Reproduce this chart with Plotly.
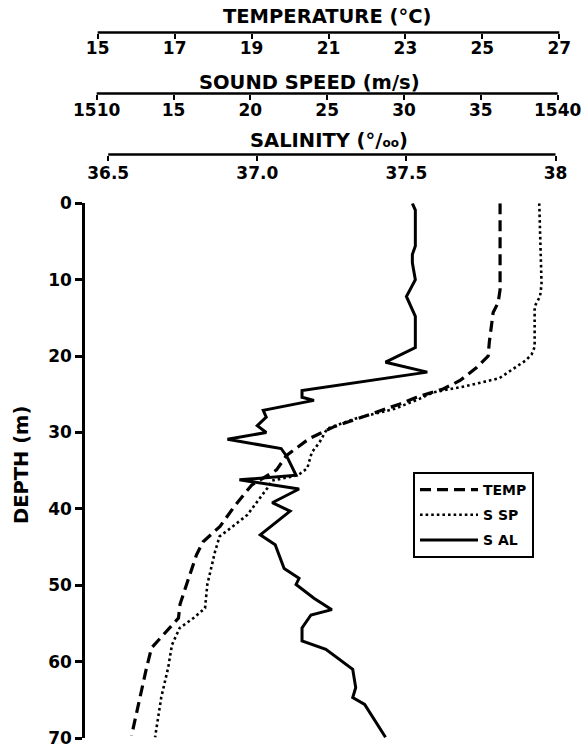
import plotly.graph_objects as go

# ---------------- data ----------------
temp_depth = [0, 11.3, 13.0, 14.3, 18.2, 20.0, 21.5, 23.2, 24.3, 24.75, 25.4, 26.3, 27.8,
              29.3, 30.8, 33.0, 34.9, 36.9, 39.7, 42.3, 44.3, 46.0, 49.9, 52.5, 54.3,
              56.45, 58.2, 60.8, 64.7, 69.7]
temp_values = [25.46, 25.46, 25.41, 25.28, 25.18, 25.15, 24.85, 24.42, 23.98, 23.72, 23.29,
               22.84, 21.99, 21.12, 20.5, 19.91, 19.65, 19.0, 18.55, 18.18, 17.74, 17.57,
               17.31, 17.14, 17.10, 16.71, 16.40, 16.27, 16.10, 15.88]

ssp_depth = [0, 10.6, 12.2, 13.5, 18.8, 19.8, 20.6, 21.5, 22.9, 23.9, 24.75, 25.6, 26.9,
             28.2, 29.5, 31.3, 32.6, 34.7, 35.6, 36.3, 37.3, 38.65, 40.8, 42.55, 43.6,
             45.6, 49.9, 53.0, 54.3, 55.6, 57.8, 60.8, 64.7, 69.9]
ssp_values = [1538.8, 1538.95, 1538.85, 1538.5, 1538.5, 1538.3, 1537.9, 1537.2, 1536.2,
              1534.1, 1531.9, 1531.0, 1529.4, 1526.8, 1525.0, 1524.5, 1524.0, 1523.7,
              1523.1, 1521.4, 1521.1, 1520.6, 1519.8, 1518.7, 1518.0, 1517.7, 1517.2,
              1517.05, 1516.3, 1515.4, 1514.9, 1514.65, 1514.2, 1513.8]

sal_depth = [0, 0.9, 5.6, 6.7, 7.8, 10.0, 12.2, 14.8, 18.9, 20.8, 22.1, 24.5, 25.4, 25.8,
             27.1, 28.0, 29.1, 30.0, 30.9, 32.1, 33.2, 35.6, 36.2, 37.4, 39.2, 40.3, 43.4,
             44.7, 47.8, 49.1, 49.9, 51.7, 53.2, 53.9, 55.6, 57.3, 58.4, 61.0, 63.4, 64.7,
             65.6, 69.9]
sal_values = [37.52, 37.53, 37.53, 37.52, 37.52, 37.53, 37.50, 37.53, 37.53, 37.43, 37.57,
              37.15, 37.15, 37.19, 37.02, 37.03, 37.00, 37.03, 36.90, 37.08, 37.10, 37.13,
              36.94, 37.14, 37.05, 37.11, 37.01, 37.06, 37.09, 37.14, 37.13, 37.19, 37.25,
              37.18, 37.15, 37.15, 37.23, 37.32, 37.33, 37.32, 37.36, 37.43]

depth_ticks = [0, 10, 20, 30, 40, 50, 60, 70]
temp_ticks = [15, 17, 19, 21, 23, 25, 27]
ssp_ticks = [1510, 1515, 1520, 1525, 1530, 1535, 1540]
ssp_ticktext = ["1510", "15", "20", "25", "30", "35", "1540"]
sal_ticks = [36.5, 37.0, 37.5, 38.0]
sal_ticktext = ["36.5", "37.0", "37.5", "38"]

# ---------------- figure ----------------
FONT = "DejaVu Sans"
W, H = 581, 748
ML, MR, MT, MB = 85, 21, 0, 10
PH = H - MT - MB


def py(pixel_y):
    return (H - MB - pixel_y) / PH


def px(pixel_x):
    return (pixel_x - ML) / (W - ML - MR)


fig = go.Figure()
fig.add_trace(go.Scatter(x=temp_values, y=temp_depth, mode="lines", name="TEMP",
                         xaxis="x", yaxis="y", legendgroup="t",
                         line=dict(color="black", width=3.2, dash="11px,6px")))
fig.add_trace(go.Scatter(x=ssp_values, y=ssp_depth, mode="lines", name="S SP",
                         xaxis="x2", yaxis="y", legendgroup="s",
                         line=dict(color="black", width=2.6, dash="2.6px,3px")))
fig.add_trace(go.Scatter(x=sal_values, y=sal_depth, mode="lines", name="S AL",
                         xaxis="x3", yaxis="y", legendgroup="a",
                         line=dict(color="black", width=3)))

tickfont = dict(family=FONT, size=17, color="black", weight="bold")
common_x = dict(showgrid=False, zeroline=False, showline=False, ticks="outside",
                ticklen=5, tickwidth=2.2, tickcolor="black", side="bottom",
                anchor="free", tickfont=tickfont, fixedrange=True,
                ticklabeloverflow="allow")

y_temp, y_ssp, y_sal = py(32.5), py(93.5), py(154.5)

fig.update_layout(
    width=W, height=H,
    margin=dict(l=ML, r=MR, t=MT, b=MB, pad=0),
    paper_bgcolor="white", plot_bgcolor="rgba(0,0,0,0)",
    template="none",
    font=dict(family=FONT, color="black", weight="bold"),
    xaxis=dict(common_x, domain=[0, 1], range=[14.670, 27.018], position=y_temp,
               tickvals=temp_ticks, ticklabelstandoff=-5),
    xaxis2=dict(common_x, overlaying="x", range=[1509.239, 1540.150], position=y_ssp,
                tickvals=ssp_ticks, ticktext=ssp_ticktext, ticklabelstandoff=-4),
    xaxis3=dict(common_x, overlaying="x", range=[36.4222, 38.0151], position=y_sal,
                tickvals=sal_ticks, ticktext=sal_ticktext, ticklabelstandoff=-2),
    yaxis=dict(domain=[0, py(203.3)], range=[70, 0], tickvals=depth_ticks,
               showgrid=False, zeroline=False, showline=True, linecolor="black",
               linewidth=2.5, ticks="outside", ticklen=7, tickwidth=2.5,
               tickcolor="black", tickfont=tickfont, anchor="x", fixedrange=True,
               ticklabeloverflow="allow"),
    legend=dict(x=px(413), y=py(472), xanchor="left", yanchor="top",
                bordercolor="black", borderwidth=2, bgcolor="white",
                font=dict(family=FONT, size=14, color="black", weight="bold"),
                tracegroupgap=4, traceorder="grouped", itemwidth=58,
                entrywidth=135, entrywidthmode="pixels"),
    showlegend=True,
)

# axis lines spanning the labelled ranges of the three top scales
fig.add_shape(type="line", xref="x", yref="paper", x0=temp_ticks[0], x1=temp_ticks[-1],
              y0=y_temp, y1=y_temp, line=dict(color="black", width=2.5))
fig.add_shape(type="line", xref="x2", yref="paper", x0=ssp_ticks[0], x1=ssp_ticks[-1],
              y0=y_ssp, y1=y_ssp, line=dict(color="black", width=2.5))
fig.add_shape(type="line", xref="x3", yref="paper", x0=sal_ticks[0], x1=sal_ticks[-1],
              y0=y_sal, y1=y_sal, line=dict(color="black", width=2.5))

title_font = dict(family=FONT, size=19.5, color="black", weight="bold")
fig.add_annotation(text="TEMPERATURE (°C)", x=px(327), y=py(16), xref="paper", yref="paper",
                   showarrow=False, xanchor="center", yanchor="middle", font=title_font)
fig.add_annotation(text="SOUND SPEED (m/s)", x=px(309), y=py(82), xref="paper", yref="paper",
                   showarrow=False, xanchor="center", yanchor="middle", font=title_font)
fig.add_annotation(text="SALINITY (°/<span style='font-size:12px'>oo</span>)",
                   x=px(329), y=py(140.5), xref="paper", yref="paper",
                   showarrow=False, xanchor="center", yanchor="middle", font=title_font)
fig.add_annotation(text="DEPTH (m)", x=px(21), y=py(465), xref="paper", yref="paper",
                   showarrow=False, xanchor="center", yanchor="middle", textangle=-90,
                   font=title_font)

fig.write_html("out.html", config={"displayModeBar": False},
               post_script="document.body.style.margin='0px';")
